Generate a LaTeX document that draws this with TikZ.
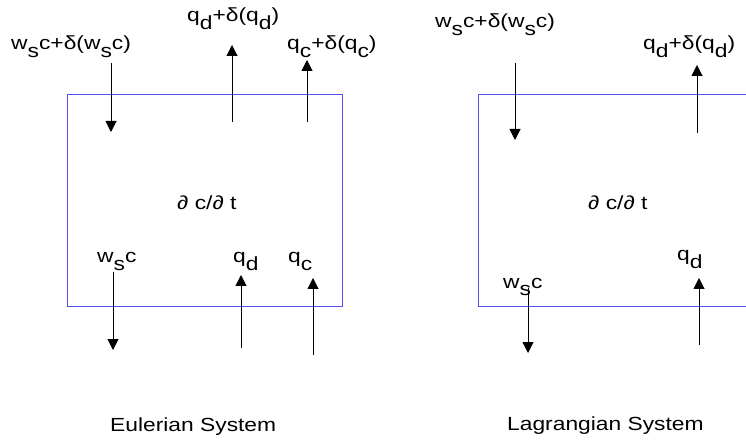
\documentclass[tikz,border=0pt]{standalone}
\usepackage{fontspec}
\setmainfont{Liberation Sans}[FakeStretch=1.2]
\usetikzlibrary{arrows.meta}
\definecolor{boxblue}{RGB}{80,80,240}
\newcommand{\lowr}[1]{\raisebox{-0.42em}{#1}}
\tikzset{
  px/.style={x=1pt,y=-1pt},
  sysbox/.style={draw=boxblue,line width=1pt},
  flux/.style={draw=black,line width=1pt,-{Triangle[width=11pt,length=11pt]}},
  lbl/.style={font=\fontsize{19}{22}\selectfont,inner sep=0pt,anchor=base west},
}
\begin{document}
\begin{tikzpicture}[px]
\useasboundingbox (0,0) rectangle (746,443);
\clip (0,0) rectangle (746,443);
% Eulerian box
\draw[sysbox] (67,95) rectangle (342,306);
\node[lbl] (ddtL) at (177,210) {∂ c/∂ t};
% top labels
\node[lbl] (wtopL) at (11,50) {w\lowr{s}c+δ(w\lowr{s}c)};
\node[lbl] (qdtopL) at (187,22) {q\lowr{d}+δ(q\lowr{d})};
\node[lbl] (qctopL) at (287,50) {q\lowr{c}+δ(q\lowr{c})};
% bottom labels
\node[lbl] (wbotL) at (97,263) {w\lowr{s}c};
\node[lbl] (qdbotL) at (233,263) {q\lowr{d}};
\node[lbl] (qcbotL) at (288,263) {q\lowr{c}};
% coordinates
\coordinate (a1s) at (111,63); \coordinate (a1e) at (111,132);
\coordinate (a2s) at (232,122); \coordinate (a2e) at (232,45);
\coordinate (a3s) at (307,122); \coordinate (a3e) at (307,60);
\coordinate (a4s) at (113,272); \coordinate (a4e) at (113,350);
\coordinate (a5s) at (241,348); \coordinate (a5e) at (241,275);
\coordinate (a6s) at (313,355); \coordinate (a6e) at (313,278);
\draw[flux] (a1s) -- (a1e);
\draw[flux] (a2s) -- (a2e);
\draw[flux] (a3s) -- (a3e);
\draw[flux] (a4s) -- (a4e);
\draw[flux] (a5s) -- (a5e);
\draw[flux] (a6s) -- (a6e);
\node[lbl] (eul) at (110,431) {Eulerian System};
% Lagrangian box
\draw[sysbox] (760,95) -- (478,95) -- (478,306) -- (760,306);
\node[lbl] (ddtR) at (588,210) {∂ c/∂ t};
\node[lbl] (wtopR) at (435,28) {w\lowr{s}c+δ(w\lowr{s}c)};
\node[lbl] (qdtopR) at (643,50) {q\lowr{d}+δ(q\lowr{d})};
\node[lbl] (wbotR) at (503,288) {w\lowr{s}c};
\node[lbl] (qdbotR) at (677,261) {q\lowr{d}};
\coordinate (b1s) at (515,63); \coordinate (b1e) at (515,140);
\coordinate (b2s) at (697,133); \coordinate (b2e) at (697,65);
\coordinate (b3s) at (528,288); \coordinate (b3e) at (528,353);
\coordinate (b4s) at (699,345); \coordinate (b4e) at (699,278);
\draw[flux] (b1s) -- (b1e);
\draw[flux] (b2s) -- (b2e);
\draw[flux] (b3s) -- (b3e);
\draw[flux] (b4s) -- (b4e);
\node[lbl] (lag) at (507,430) {Lagrangian System};
\end{tikzpicture}
\end{document}
